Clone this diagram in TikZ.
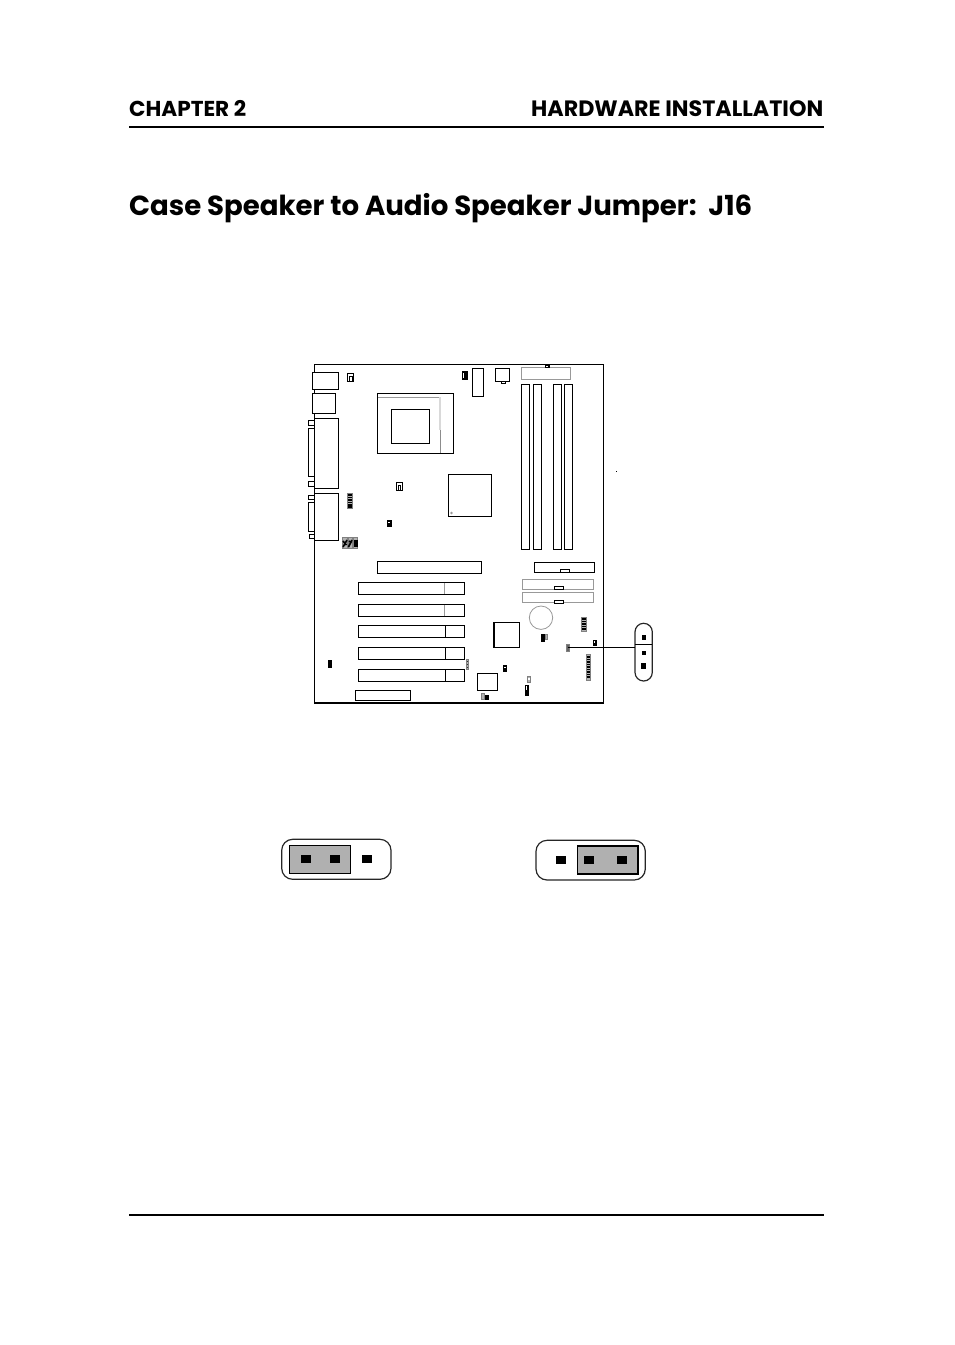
\documentclass[tikz,border=0pt]{standalone}
\usepackage{fontspec}
\setmainfont{Poppins}
\newcommand{\bxx}[5][part]{\draw[#1] (#2,#3) rectangle (#4,#5);}
\tikzset{
  part/.style={draw=black,line width=1.2pt,fill=white},
  thin part/.style={draw=black,line width=0.9pt,fill=white},
  grey part/.style={draw=black!40,line width=1pt,fill=white},
  speck/.style={draw=black!50,line width=0.7pt,fill=black!30},
  ink/.style={draw=black,line width=0.5pt,fill=black},
  rulebar/.style={draw=black,line width=2pt},
  capsule/.style={draw=black!85,line width=1.2pt,fill=white,rounded corners=10pt},
  shunt/.style={draw=black,line width=1.1pt,fill=black!31},
  headtext/.style={inner sep=0pt,anchor=base west,font=\bfseries\fontsize{23}{23}\selectfont},
  titletext/.style={inner sep=0pt,anchor=base west,font=\bfseries\fontsize{27}{27}\selectfont}
}
\begin{document}
\begin{tikzpicture}[x=1pt,y=-1pt]
\useasboundingbox (0,0) rectangle (954,1345);
% headings
\node[headtext] (chap) at (129,116) {\resizebox{117pt}{!}{CHAPTER 2}};
\node[headtext] (hw) at (531,116) {\resizebox{292pt}{!}{HARDWARE INSTALLATION}};
\draw[rulebar] (129,126.5) -- (824,126.5);
\node[titletext] (title) at (129,215) {\resizebox{623pt}{!}{Case Speaker to Audio Speaker Jumper:\ \ J16}};
\draw[rulebar] (129,1215) -- (824,1215);
% board
\bxx{314.5}{364.5}{603.7}{703}
% rear ports
\bxx{312.3}{372.3}{338.3}{389.3}
\bxx{312.3}{393.3}{335.7}{413.7}
\bxx[thin part]{308.3}{420.7}{314.5}{425.7}
\bxx[thin part]{308.3}{428.3}{314.5}{476.3}
\bxx[thin part]{308.3}{481.7}{314.5}{486.7}
\bxx{314.5}{418.3}{338.3}{488.3}
\bxx[thin part]{308.3}{495.3}{314.5}{499.3}
\bxx[thin part]{308.3}{502}{314.5}{531.3}
\bxx[thin part]{309}{534.3}{314.5}{538.3}
\bxx{314.5}{493.3}{338.3}{540.3}
% CPU socket
\bxx{377.3}{393.3}{453.7}{453.3}
\bxx{391.3}{409.3}{429.3}{443.3}
\draw[black!40,line width=0.9pt] (377.8,397.3) -- (440,397.3);
\draw[black!15,line width=1.2pt] (440,397.3) -- (440,430);
\draw[black!45,line width=1pt] (440,430) -- (440,453);
% small jumpers top
\bxx{347.6}{373.3}{353.7}{381.3}
\draw[black,line width=0.9pt] (349.5,381) -- (349.5,376) -- (352,376) -- (352,381);
\bxx[ink]{462.4}{371.2}{467.4}{379.2}
\draw[white,line width=1pt] (463.9,373) -- (463.9,378);
\bxx{396.3}{482.5}{402.1}{490.2}
\draw[black,line width=0.9pt] (398.2,490) -- (398.2,485) -- (400.2,485) -- (400.2,490);
% north bridge
\bxx{448.3}{474.3}{491.7}{516.3}
\draw[black!40,line width=0.6pt] (451.5,513) circle (0.9);
% top right items
\bxx{472.3}{368.3}{483.7}{396.3}
\bxx[thin part]{501.3}{381}{505}{383.7}
\bxx{495.3}{368.3}{509.7}{381.7}
\bxx[grey part]{521.6}{367.2}{570.5}{379.7}
\bxx[ink]{545}{365}{549}{367.6}
\fill[white] (546,365.8) rectangle (548,366.8);
% DIMMs
\bxx{521.3}{384.3}{529.7}{549.5}
\bxx{533.3}{384.3}{541.7}{549.5}
\bxx{553.3}{384.3}{561.7}{549.5}
\bxx{564.3}{384.3}{572.3}{549.5}
\fill[black] (616,471) rectangle (617,472);
% small speck connectors, left
\bxx[speck]{347.8}{493.5}{352.8}{508.2}
\foreach \yy in {495,497.5,500,502.5,505,507}{\draw[black,line width=1.5pt] (348.3,\yy) -- (352.3,\yy);}
\bxx[ink]{387.4}{520.4}{390.8}{526}
\fill[white] (388.4,522) rectangle (389.8,523);
\bxx[speck]{342.5}{537.8}{347}{548}
\bxx[speck]{348}{537.8}{352.3}{548}
\bxx[speck]{353.3}{537.8}{357.5}{548}
\draw[black,line width=1.6pt] (343,547) -- (347,540) (343,541) -- (346.5,545) (348.5,547) -- (352,540) (349,541) -- (351.5,543);
\fill[black] (354,540) rectangle (358,546.5);
% AGP and PCI
\bxx{377.3}{561.3}{481.7}{573.3}
\bxx{358.3}{582.3}{464.7}{594.3}
\draw[black!40,line width=1pt] (444.3,582.8) -- (444.3,593.8);
\bxx{358.3}{604.3}{464.7}{616.3}
\draw[black!40,line width=1pt] (444.3,604.8) -- (444.3,615.8);
\bxx{358.3}{625.3}{464.7}{637.3}
\draw[black,line width=1.1pt] (445.3,625.3) -- (445.3,637.3);
\bxx{358.3}{647.3}{464.7}{659.3}
\draw[black,line width=1.1pt] (445.3,647.3) -- (445.3,659.3);
\bxx{358.3}{669.3}{464.7}{681.3}
\draw[black,line width=1.1pt] (445.3,669.3) -- (445.3,681.3);
\bxx{355.3}{690.3}{410.3}{700.3}
\bxx[ink]{328.6}{660.6}{330.8}{667}
\bxx[speck]{466.3}{659.5}{468.5}{669}
\foreach \yy in {661,664,667}{\draw[black!80,line width=0.9pt] (466.5,\yy) -- (468.3,\yy);}
% south side
\bxx{477.3}{673.3}{497.3}{690.3}
\bxx[speck]{481.2}{693.5}{484}{699.5}
\bxx[ink]{485.2}{695}{488.6}{699.5}
\bxx{534.3}{562.3}{594.3}{572.3}
\bxx[thin part]{560}{569.3}{569.7}{572.3}
\bxx[grey part]{522.3}{579.3}{593.3}{589.7}
\bxx[thin part]{554.3}{586.3}{563.7}{589.7}
\bxx[grey part]{522.3}{592.3}{593.3}{602.7}
\bxx[thin part]{554.3}{600.3}{563.7}{603.5}
\draw[grey part,line width=0.8pt] (541,617.7) circle (11.7);
\bxx{494}{622.3}{519.3}{647.3}
\bxx[ink]{541.3}{634}{544.5}{641}
\bxx[speck]{545.2}{634}{547.8}{639}
\bxx[speck]{581.3}{617.5}{586}{631}
\foreach \yy in {619,621.5,624,626.5,629}{\draw[black,line width=1.5pt] (581.8,\yy) -- (585.5,\yy);}
\bxx[ink]{592.8}{640}{595.8}{645}
\fill[white] (593.8,641.4) rectangle (594.8,643.4);
\bxx[speck]{586}{654.5}{590.6}{680}
\foreach \yy in {657,659.5,...,679}{\draw[black,line width=1.5pt] (586.6,\yy) -- (590,\yy);}
\bxx[ink]{503.2}{665.2}{506.6}{671}
\fill[white] (504.2,667) rectangle (505.6,668);
\bxx[speck]{527.4}{676}{530.8}{682}
\fill[white] (528.3,677.5) rectangle (530,680);
\bxx[ink]{525.6}{685}{528}{695}
\fill[white] (526.2,686) rectangle (527,690);
% J16 locator
\node[draw=black!50,line width=0.7pt,fill=black!60,minimum width=3pt,minimum height=7pt,inner sep=0pt] (j16mark) at (567.5,647.5) {};
\draw[capsule,rounded corners=8.6pt] (635,623.3) rectangle (652.3,681);
\node[inner sep=0pt,minimum size=0pt] (capl) at (635,647.5) {};
\draw[black,line width=1pt] (j16mark.center) -- (capl.center);
\draw[black,line width=1pt] (635,644.5) -- (652.3,644.5);
\node[fill=black,inner sep=0pt,minimum size=4.4pt] (p1) at (643.7,637.3) {};
\node[fill=black,inner sep=0pt,minimum size=3.6pt] (p2) at (643.7,652.7) {};
\node[fill=black,inner sep=0pt,minimum size=5.2pt] (p3) at (643.7,666) {};
% left jumper
\draw[capsule,rounded corners=11pt] (281.7,839.3) rectangle (391,879.3);
\bxx[shunt]{289.3}{845.3}{350.7}{873.3}
\foreach \xx in {306,335,367}{\fill[black] (\xx-5,855) rectangle (\xx+5,863);}
% right jumper
\draw[capsule,rounded corners=11pt] (536,840.3) rectangle (645.3,880);
\bxx[shunt]{577.3}{846}{638.3}{874.3}
\draw[black,line width=1.7pt] (638.3,846) -- (638.3,874.3) -- (577.3,874.3);
\foreach \xx in {561,589.3,622}{\fill[black] (\xx-5,856) rectangle (\xx+5,864);}
\end{tikzpicture}
\end{document}
